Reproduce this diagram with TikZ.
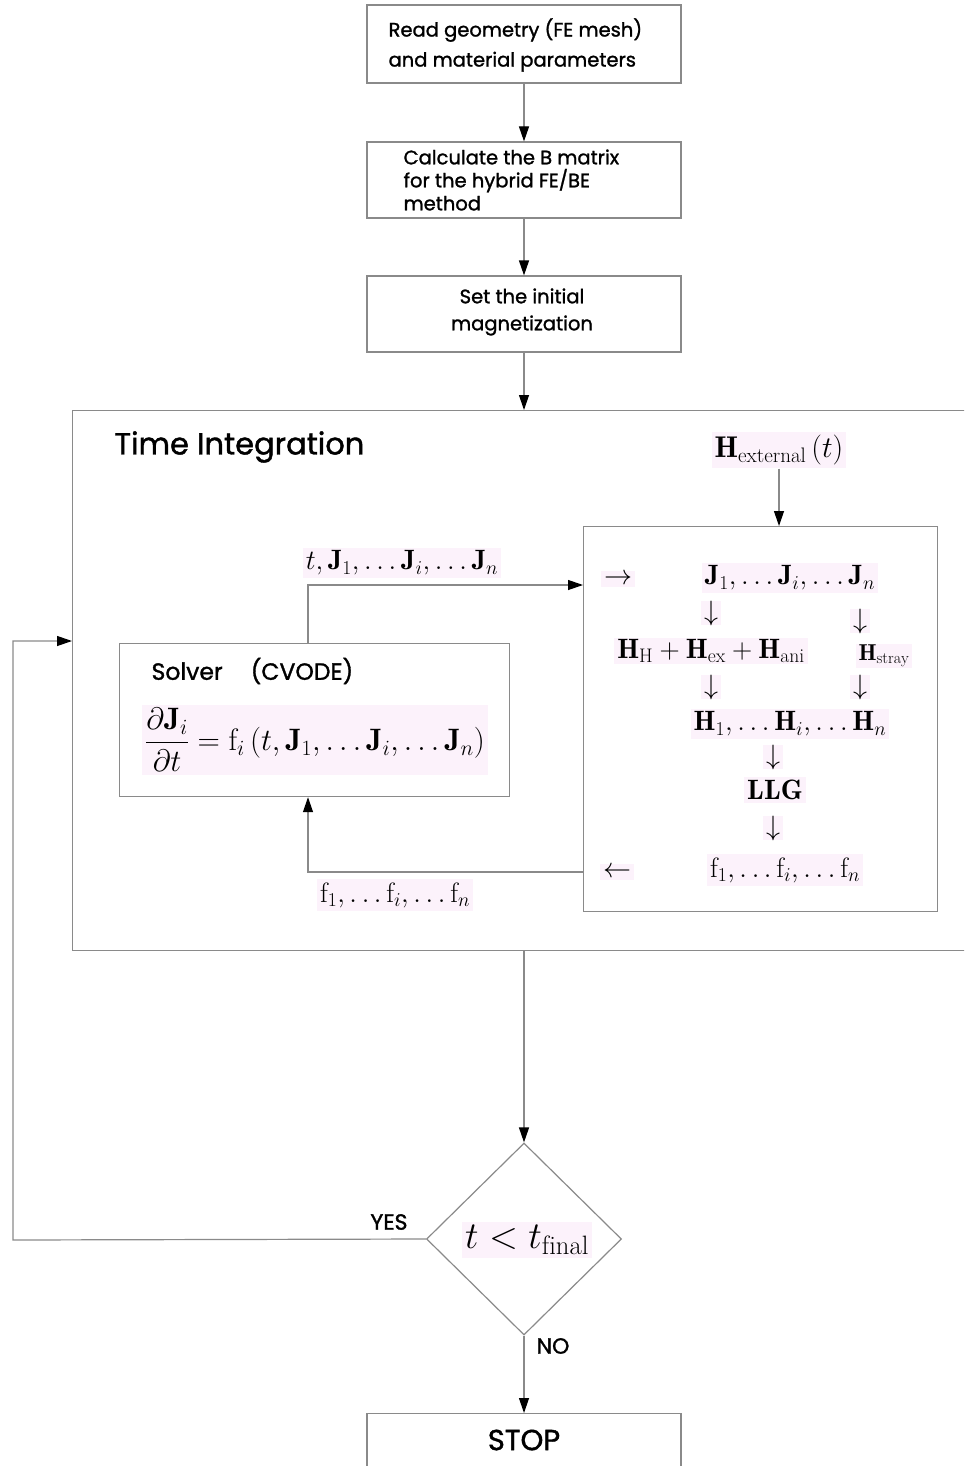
\RequirePackage{fix-cm}
\documentclass[tikz,border=0pt]{standalone}
\usepackage{amsmath}
\usepackage{fontspec}
\newfontfamily\pop{Poppins}[FakeBold=1.3]
\usetikzlibrary{arrows.meta,shapes.geometric}
\definecolor{lc}{HTML}{8A8A8A}
\definecolor{pk}{HTML}{FCF2FB}
\begin{document}
\begin{tikzpicture}[x=1pt,y=-1pt,
  line width=1.2pt,
  arr/.style={draw=lc, -{Triangle[length=15pt,width=10pt,color=black]}},
  pbox/.style={draw=lc, rectangle, inner sep=0pt},
  lbl/.style={font=\pop\fontsize{19.5}{23}\selectfont, inner sep=0pt},
  mth/.style={font=\fontsize{28}{32}\selectfont, fill=pk, inner sep=3pt},
  darr/.style={font=\fontsize{28}{32}\selectfont, fill=pk, inner xsep=3pt, inner ysep=0pt}]
\clip (0,0) rectangle (964,1466);
% top boxes
\node[pbox, minimum width=314, minimum height=78] (b1) at (524,44) {};
\node[lbl, align=left, anchor=west] (t1) at (388,45) {Read geometry (FE mesh)\\[7pt]and material parameters};
\node[pbox, minimum width=314, minimum height=76] (b2) at (524,180) {};
\node[lbl, align=left, anchor=west] (t2) at (403,180) {Calculate the B matrix\\for the hybrid FE/BE\\method};
\node[pbox, minimum width=314, minimum height=76] (b3) at (524,314) {};
\node[lbl, align=center] (t3) at (522,312) {Set the initial\\[4pt]magnetization};
% big box
\node[pbox, minimum width=920, minimum height=540, anchor=north west] (tbox) at (72,410) {};
\node[font=\pop\fontsize{30.5}{34}\selectfont, inner sep=0pt, anchor=west] (ti) at (114,447) {Time Integration};
\draw[arr] (b1.south) -- (b2.north);
\draw[arr] (b2.south) -- (b3.north);
\draw[arr] (b3.south) -- (b3.south |- tbox.north);
% right box
\node[pbox, minimum width=354, minimum height=385, anchor=north west] (rb) at (583,526) {};
\node[mth, font=\fontsize{30}{34}\selectfont] (hext) at (779,450) {$\mathbf{H}_\mathrm{external}\,(t)$};
\draw[arr] (hext.south) -- (hext.south |- rb.north);
\node[mth] (rarr) at (618,579) {$\rightarrow$};
\node[mth] (jrow) at (790,578) {$\mathbf{J}_1,\ldots\mathbf{J}_i,\ldots\mathbf{J}_n$};
\node[darr] (da1) at (711,613) {$\downarrow$};
\node[darr] (da2) at (860,621) {$\downarrow$};
\node[mth, inner ysep=1pt] (hsum) at (711,651) {$\mathbf{H}_\mathrm{H}+\mathbf{H}_\mathrm{ex}+\mathbf{H}_\mathrm{ani}$};
\node[mth, inner ysep=1pt, font=\fontsize{23}{26}\selectfont] (hstray) at (884,656) {$\mathbf{H}_\mathrm{stray}$};
\node[darr] (da3) at (711,687) {$\downarrow$};
\node[darr] (da4) at (860,687) {$\downarrow$};
\node[mth] (hrow) at (790,724) {$\mathbf{H}_1,\ldots\mathbf{H}_i,\ldots\mathbf{H}_n$};
\node[darr] (da5) at (773,757) {$\downarrow$};
\node[mth] (llg) at (775,790) {$\mathbf{LLG}$};
\node[darr] (da6) at (773,828) {$\downarrow$};
\node[mth] (frow) at (785,870) {$\mathrm{f}_1,\ldots\mathrm{f}_i,\ldots\mathrm{f}_n$};
\node[mth] (larr) at (617,872) {$\leftarrow$};
% solver
\node[pbox, minimum width=390, minimum height=153, anchor=north west] (solver) at (119,643) {};
\node[font=\pop\fontsize{23.5}{26}\selectfont, inner sep=0pt, anchor=west] (stxt) at (151,671) {Solver\hspace{28pt}(CVODE)};
\node[mth, font=\fontsize{31}{36}\selectfont] (eq) at (315,740) {$\dfrac{\partial\mathbf{J}_i}{\partial t}=\mathrm{f}_i\left(t,\mathbf{J}_1,\ldots\mathbf{J}_i,\ldots\mathbf{J}_n\right)$};
% connectors solver <-> right box
\coordinate (p1) at (308,585);
\coordinate (p2) at (308,872);
\draw[arr] (solver.north -| p1) -- (p1) -- (p1 -| rb.west);
\draw[arr] (p2 -| rb.west) -- (p2) -- (p2 |- solver.south);
\node[mth] (lt) at (402,563) {$t,\mathbf{J}_1,\ldots\mathbf{J}_i,\ldots\mathbf{J}_n$};
\node[mth] (lb) at (395,895) {$\mathrm{f}_1,\ldots\mathrm{f}_i,\ldots\mathrm{f}_n$};
% decision
\node[diamond, draw=lc, minimum width=195, minimum height=192, inner sep=0pt] (dec) at (524,1239) {};
\node[mth, font=\fontsize{38}{44}\selectfont] (cond) at (527,1240) {$t<t_\mathrm{final}$};
\draw[arr] (dec.north |- tbox.south) -- (dec.north);
\coordinate (c1) at (13,1240);
\coordinate (c2) at (13,641);
\draw[arr] (dec.west) -- (c1) -- (c2) -- (c2 -| tbox.west);
\node[lbl, font=\pop\fontsize{22}{24}\selectfont] (yes) at (389,1222) {YES};
% stop
\node[pbox, minimum width=314, minimum height=80, anchor=north] (stop) at (524,1413) {};
\draw[arr] (dec.south) -- (stop.north);
\node[lbl, font=\pop\fontsize{22}{24}\selectfont] (no) at (553,1346) {NO};
\node[lbl, font=\pop\fontsize{29}{32}\selectfont] (stoptxt) at (524,1440) {STOP};
\end{tikzpicture}
\end{document}
